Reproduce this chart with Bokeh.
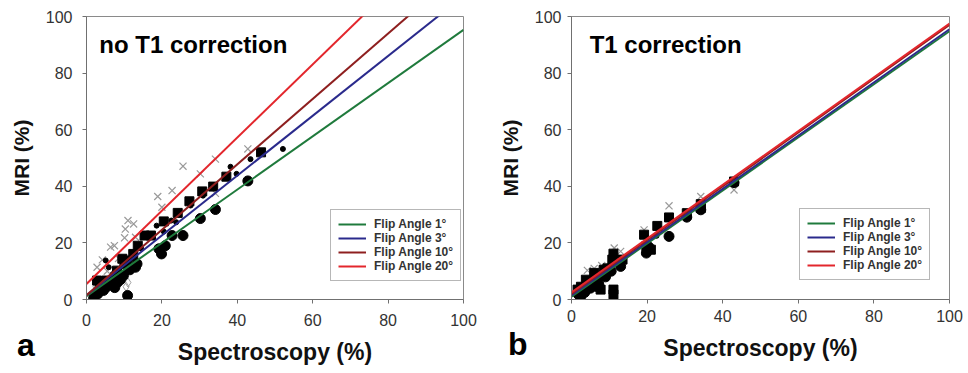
from bokeh.plotting import figure
from bokeh.layouts import row, column
from bokeh.models import Label, Legend, LegendItem, Range1d, FixedTicker, Div
from bokeh.embed import file_html
from bokeh.resources import INLINE

# ---------------- data ----------------
ticks = [0, 20, 40, 60, 80, 100]
flip_labels = ["Flip Angle 1°", "Flip Angle 3°", "Flip Angle 10°", "Flip Angle 20°"]
line_colors = ["#1f7a3c", "#2a2a8c", "#8e1f1f", "#e3262c"]
panel_letters = ["a", "b"]
panel_titles = ["no T1 correction", "T1 correction"]

# panel a: no T1 correction -- regression lines (intercept, slope)
a_intercepts = [1.2, 1.5, 1.5, 5.5]
a_slopes = [0.941, 1.057, 1.156, 1.293]

a_fa1_x = [1.9, 3.0, 4.5, 5.3, 6.5, 7.5, 8.2, 9.0, 9.8, 10.9, 11.5, 13.0, 13.4, 19.2, 19.9, 20.9, 22.7, 25.6, 30.2, 34.2, 42.8]
a_fa1_y = [0.5, 2.0, 3.2, 4.4, 5.5, 4.2, 6.0, 7.0, 8.5, 1.4, 10.5, 11.4, 12.6, 17.9, 16.1, 19.0, 22.6, 22.6, 28.6, 31.8, 41.9]

a_fa3_x = [2.5, 3.5, 5.1, 5.9, 7.0, 8.5, 9.5, 10.5, 12.0, 14.5, 18.6, 20.5, 22.5, 23.8, 27.6, 30.9, 38.2, 39.8, 43.5, 52.1]
a_fa3_y = [3.0, 4.5, 13.8, 11.4, 9.0, 10.5, 12.0, 13.5, 14.5, 18.0, 26.1, 24.0, 27.9, 27.3, 33.2, 36.7, 46.9, 44.4, 49.6, 53.2]

a_fa10_x = [2.8, 3.5, 5.3, 7.7, 8.1, 9.5, 10.1, 10.8, 12.4, 13.6, 15.4, 17.1, 20.5, 24.2, 27.3, 30.7, 33.6, 37.1, 46.3]
a_fa10_y = [6.7, 5.0, 6.7, 7.9, 10.2, 14.4, 12.6, 13.8, 16.1, 19.0, 22.6, 22.6, 27.6, 30.6, 34.7, 38.2, 39.9, 43.4, 52.0]

a_fa20_x = [2.8, 4.2, 5.5, 6.4, 7.4, 8.5, 10.1, 10.3, 11.0, 12.5, 13.0, 18.9, 20.0, 22.7, 25.6, 30.2, 34.2, 42.8, 34.2]
a_fa20_y = [11.4, 14.0, 10.0, 18.5, 19.0, 14.5, 21.8, 24.9, 27.9, 26.7, 22.0, 36.4, 32.6, 38.5, 47.1, 44.4, 49.6, 53.2, 37.5]

a_open_x = [2.5, 4.0, 6.0, 8.5, 10.5, 11.0]
a_open_y = [4.5, 3.0, 5.5, 9.0, 4.5, 6.0]

# panel b: T1 correction
b_intercepts = [1.0, 1.5, 2.0, 2.5]
b_slopes = [0.938, 0.940, 0.950, 0.950]

b_fa1_x = [1.8, 2.5, 3.5, 5.0, 7.0, 9.0, 10.5, 13.0, 19.8, 20.5, 25.8, 30.5, 34.2, 43.0]
b_fa1_y = [1.8, 1.2, 2.5, 4.0, 6.5, 8.0, 10.0, 11.7, 16.4, 18.5, 22.3, 29.1, 31.7, 41.3]

b_fa3_x = [2.2, 3.0, 4.5, 6.0, 8.0, 10.0, 12.0, 19.5, 22.5, 30.5, 34.2]
b_fa3_y = [2.5, 3.5, 5.5, 7.5, 9.0, 11.0, 13.0, 19.5, 22.5, 29.8, 33.0]

b_fa10_x = [1.6, 2.5, 3.8, 5.0, 6.0, 7.3, 7.7, 8.5, 9.5, 10.8, 11.1, 11.1, 11.1, 13.5, 19.2, 19.8, 21.0, 22.7, 25.8, 30.5, 34.2, 34.2, 43.0]
b_fa10_y = [3.5, 4.5, 7.0, 6.0, 9.4, 4.5, 3.5, 10.5, 11.0, 14.1, 16.2, 3.5, 1.8, 14.1, 22.9, 18.8, 17.6, 26.0, 29.0, 30.5, 33.7, 32.3, 41.7]

b_fa20_x = [4.2, 6.0, 8.0, 11.3, 13.0, 19.2, 25.8, 30.5, 34.2, 43.0]
b_fa20_y = [10.3, 11.0, 12.0, 18.2, 17.0, 24.6, 33.1, 31.0, 36.4, 38.7]

FONT = "Liberation Sans"


def make_panel(title, title_xy, intercepts, slopes, pts, left_border, right_border,
               legend_xy, tick_standoff):
    p = figure(width=484, height=373,
               min_border_left=left_border, min_border_right=right_border,
               min_border_top=16, min_border_bottom=74,
               x_range=Range1d(0, 100), y_range=Range1d(0, 100),
               output_backend="svg", toolbar_location=None)
    p.grid.visible = False
    p.outline_line_color = "#8a8a8a"
    p.outline_line_width = 1
    p.background_fill_color = "white"
    p.border_fill_color = "white"
    for ax in (p.xaxis[0], p.yaxis[0]):
        ax.ticker = FixedTicker(ticks=ticks)
        ax.minor_tick_line_color = None
        ax.major_tick_in = 0
        ax.major_tick_out = 4
        ax.major_tick_line_color = "#707070"
        ax.axis_line_color = "#707070"
        ax.major_label_text_font = FONT
        ax.major_label_text_font_size = "16px"
        ax.major_label_text_color = "#333333"
        ax.major_label_standoff = tick_standoff
        ax.axis_label_text_font = FONT
        ax.axis_label_text_font_style = "bold"
        ax.axis_label_text_color = "#111111"
        ax.axis_label_standoff = 10
    p.xaxis.axis_label = "Spectroscopy (%)"
    p.xaxis.axis_label_text_font_size = "23px"
    p.yaxis.axis_label = "MRI (%)"
    p.yaxis.axis_label_text_font_size = "21px"

    # data points
    fa1x, fa1y, fa3x, fa3y, fa10x, fa10y, fa20x, fa20y, ox, oy = pts
    if ox:
        p.scatter(ox, oy, marker="diamond", size=9, fill_color=None,
                  line_color="#a0a0a0", line_width=1)
    p.scatter(fa20x, fa20y, marker="x", size=10, line_color="#9a9a9a", line_width=1.2)
    p.scatter(fa1x, fa1y, marker="circle", size=10, fill_color="black", line_color="black")
    p.scatter(fa10x, fa10y, marker="square", size=9, fill_color="black", line_color="black")
    p.scatter(fa3x, fa3y, marker="circle", size=5, fill_color="black", line_color="black")

    items = []
    for lab, col, b0, b1 in zip(flip_labels, line_colors, intercepts, slopes):
        r = p.line([0, 100], [b0, b0 + b1 * 100], line_color=col, line_width=2)
        items.append(LegendItem(label=lab, renderers=[r]))

    leg = Legend(items=items, location=legend_xy, orientation="vertical",
                 label_text_font=FONT, label_text_font_size="12px",
                 label_text_font_style="bold", label_text_color="#333333",
                 glyph_width=28, glyph_height=14, label_height=14,
                 label_standoff=8, spacing=0, padding=7, margin=0,
                 border_line_color="#707070", border_line_width=1,
                 background_fill_color="white", background_fill_alpha=1.0)
    p.add_layout(leg, "center")

    p.add_layout(Label(x=title_xy[0], y=title_xy[1], text=title, text_font=FONT,
                       text_font_size="24px", text_font_style="bold",
                       text_color="black", text_baseline="alphabetic"))
    return p


pa = make_panel(panel_titles[0], (3.4, 90.0), a_intercepts, a_slopes,
                (a_fa1_x, a_fa1_y, a_fa3_x, a_fa3_y, a_fa10_x, a_fa10_y,
                 a_fa20_x, a_fa20_y, a_open_x, a_open_y),
                86, 21, (244, 18), 10)
pb = make_panel(panel_titles[1], (4.8, 90.2), b_intercepts, b_slopes,
                (b_fa1_x, b_fa1_y, b_fa3_x, b_fa3_y, b_fa10_x, b_fa10_y,
                 b_fa20_x, b_fa20_y, [], []),
                87, 19, (228, 19), 6)


def letter_div(txt, left, top):
    return Div(text=txt, margin=0,
               styles={"position": "absolute", "left": f"{left}px", "top": f"{top}px",
                       "z-index": "10", "font-family": FONT, "font-size": "32px",
                       "font-weight": "bold", "line-height": "32px", "color": "black",
                       "padding": "0", "margin": "0"})


da = letter_div(panel_letters[0], 17, 329)
db = letter_div(panel_letters[1], 508, 328)

layout = column(row(pa, pb, spacing=0), da, db, spacing=0)
open("out.html", "w").write(file_html(layout, INLINE))
